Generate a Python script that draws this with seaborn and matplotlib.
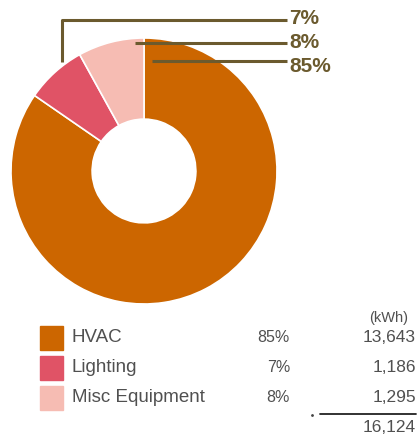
import matplotlib
matplotlib.use('Agg')
import matplotlib.pyplot as plt
import seaborn as sns

# datos del gráfico
categorias = ['HVAC', 'Lighting', 'Misc Equipment']
kwh = [13643, 1186, 1295]
porcentajes = ['85%', '7%', '8%']
total_kwh = '16,124'
colores = ['#CC6600', '#E05366', '#F6BCB3']

sns.set_theme(style='white')
plt.rcParams['font.family'] = ['Liberation Sans', 'DejaVu Sans']

fig = plt.figure(figsize=(4.17, 4.34), dpi=100)

# --- Donut ---
ax = fig.add_axes([11/417, 130/434, 266/417, 266/434])
ax.pie(kwh, colors=colores, startangle=90, counterclock=False,
       wedgeprops=dict(width=0.61, edgecolor='white', linewidth=1.2))
ax.set_xlim(-1, 1)
ax.set_ylim(-1, 1)
ax.axis('off')

# --- capa de anotaciones en pixeles ---
ov = fig.add_axes([0, 0, 1, 1], facecolor='none')
ov.set_xlim(0, 417)
ov.set_ylim(434, 0)
ov.axis('off')

marron = '#6B5A2E'
# líneas guía (7%, 8%, 85%)
ov.plot([62, 62, 287], [62, 19.5, 19.5], color=marron, lw=2.2, solid_capstyle='butt')
ov.plot([135, 287], [43, 43], color=marron, lw=2.2, solid_capstyle='butt')
ov.plot([152, 287], [61, 61], color=marron, lw=2.2, solid_capstyle='butt')
etiq_y = {'7%': 19, '8%': 43, '85%': 67}
for p in ['7%', '8%', '85%']:
    ov.text(289, etiq_y[p], p, color=marron, fontsize=15, fontweight='bold',
            va='center', ha='left')

# --- tabla leyenda ---
filas_y = [338, 368, 398]
for cat, col, pct, val, y in zip(categorias, colores, porcentajes, kwh, filas_y):
    ov.add_patch(plt.Rectangle((40, y - 12), 23, 24, color=col))
    ov.text(72, y, cat, fontsize=13.5, color='#505050', va='center', ha='left')
    ov.text(290, y, pct, fontsize=11.5, color='#505050', va='center', ha='right')
    ov.text(416, y, f'{val:,}', fontsize=12.5, color='#505050', va='center', ha='right')

ov.text(408, 318, '(kWh)', fontsize=10.5, color='#505050', va='center', ha='right')
ov.plot([320, 416], [414, 414], color='#222222', lw=1.3)
ov.plot([312], [415], marker='.', color='#444444', ms=2)
ov.text(416, 428, total_kwh, fontsize=12.5, color='#505050', va='center', ha='right')

fig.savefig('out.png', dpi=100)
